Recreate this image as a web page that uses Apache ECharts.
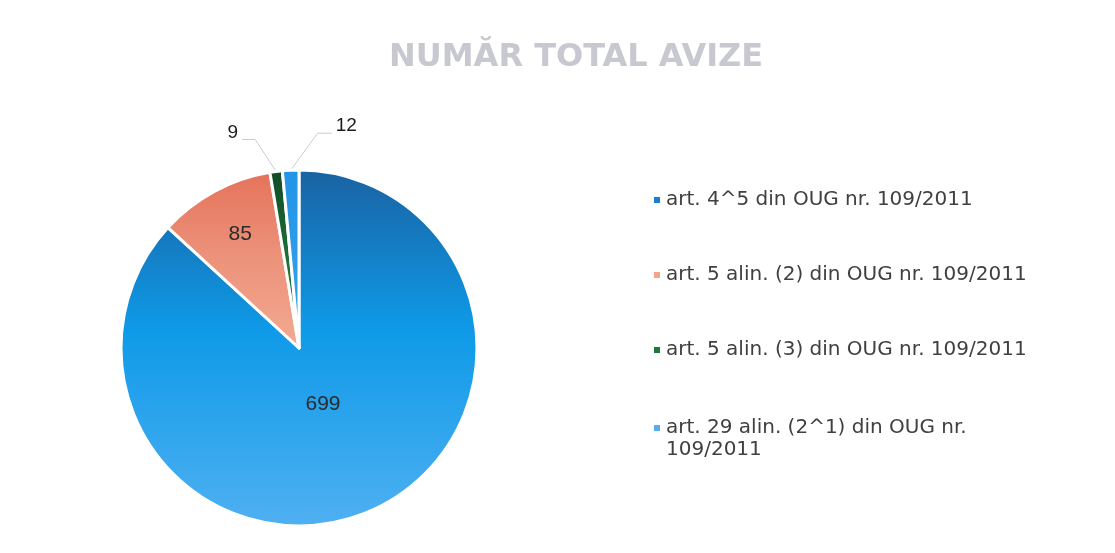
<!DOCTYPE html>
<html lang="ro">
<head>
    <meta charset="UTF-8">
    <script src="https://cdn.jsdelivr.net/npm/echarts@6/dist/echarts.min.js"></script>
    <title>Număr total avize</title>
    <style>
        html, body { margin: 0; padding: 0; background: #fff; }
        #chart { width: 1115px; height: 553px; }
    </style>
</head>
<body>
    <div id="chart"></div>
</body>
<script type="text/javascript">
    // date
    var categorii = [
        'art. 4^5 din OUG nr. 109/2011',
        'art. 5 alin. (2) din OUG nr. 109/2011',
        'art. 5 alin. (3) din OUG nr. 109/2011',
        'art. 29 alin. (2^1) din OUG nr. 109/2011'
    ];
    var valori = [699, 85, 9, 12];

    // stil
    var culoriSus = ['#1a62a2', '#e4735a', '#124a26', '#2494e6'];
    var culoriMijloc = ['#0e9ae8', '#ec9079', '#1d6c37', '#2d9bea'];
    var culoriJos = ['#50b0f2', '#f3aa92', '#2a8c48', '#3aa2ee'];
    var culoriLegenda = ['#1a7fd4', '#f2a58e', '#1e7a3c', '#55aef0'];
    var pozitiiEticheta = ['inside', 'inside', 'outside', 'outside'];
    var deplasareEticheta = [[-13, -28], [-15, -33], [0, 0], [0, 0]];
    // linia etichetelor exterioare: [dx oblic, dy oblic, lungime orizontala, sens]
    var linieEticheta = [null, null, [-21, -32, 13, -1], [27, -37, 14, 1]];
    var latimeMaxLegenda = 38; // caractere pe rand, apoi se rupe ultimul cuvant

    function gradient(i) {
        return new echarts.graphic.LinearGradient(0, 0, 0, 1, [
            {offset: 0, color: culoriSus[i]},
            {offset: 0.45, color: culoriMijloc[i]},
            {offset: 1, color: culoriJos[i]}
        ]);
    }

    var chart = echarts.init(document.getElementById('chart'));

    var dateSerie = categorii.map(function (nume, i) {
        var interior = pozitiiEticheta[i] === 'inside';
        return {
            name: nume,
            value: valori[i],
            itemStyle: {color: gradient(i)},
            label: {
                position: pozitiiEticheta[i],
                offset: deplasareEticheta[i],
                fontSize: interior ? 21 : 19,
                color: interior ? '#2b2b2b' : '#1a1a1a'
            }
        };
    });

    var elementeLegenda = categorii.map(function (nume, i) {
        return {name: nume, itemStyle: {color: culoriLegenda[i]}};
    });
    var scurte = elementeLegenda.filter(function (e) { return e.name.length <= latimeMaxLegenda; });
    var lungi = elementeLegenda.filter(function (e) { return e.name.length > latimeMaxLegenda; });

    var stilLegenda = {
        orient: 'vertical',
        left: 647,
        itemGap: 53,
        itemWidth: 8,
        itemHeight: 8,
        icon: 'rect',
        textStyle: {
            fontFamily: 'DejaVu Sans',
            fontSize: 20,
            color: '#404040',
            lineHeight: 22
        }
    };

    chart.setOption({
        animation: false,
        title: {
            text: 'NUMĂR TOTAL AVIZE',
            left: 384,
            top: 37,
            textStyle: {
                fontFamily: 'DejaVu Sans',
                fontSize: 32,
                fontWeight: 'bold',
                color: '#c8c8d0'
            }
        },
        legend: [
            Object.assign({}, stilLegenda, {top: 184, data: scurte}),
            // textul lung e rupt pe doua randuri; rand gol deasupra ca iconita
            // sa stea in dreptul primului rand
            Object.assign({}, stilLegenda, {
                top: 390,
                data: lungi,
                formatter: function (nume) {
                    var k = nume.lastIndexOf(' ');
                    return '\n' + nume.slice(0, k) + '\n' + nume.slice(k + 1);
                }
            })
        ],
        series: [{
            name: 'Număr total avize',
            type: 'pie',
            center: [299, 348],
            radius: 178,
            startAngle: 90,
            clockwise: true,
            avoidLabelOverlap: false,
            itemStyle: {borderColor: '#fff', borderWidth: 3},
            label: {
                show: true,
                formatter: '{c}',
                fontFamily: 'Liberation Sans'
            },
            labelLine: {
                length: 28,
                length2: 14,
                lineStyle: {color: '#c9ccd2', width: 1}
            },
            // etichetele mici: linie oblica spre exterior, apoi orizontala
            labelLayout: function (params) {
                var g = linieEticheta[params.dataIndex];
                if (!g || !params.labelLinePoints) {
                    return;
                }
                var p0 = params.labelLinePoints[0];
                var p1 = [p0[0] + g[0], p0[1] + g[1]];
                var p2 = [p1[0] + g[3] * g[2], p1[1]];
                return {
                    x: p2[0] + g[3] * 4,
                    y: p2[1] - 7,
                    align: g[3] > 0 ? 'left' : 'right',
                    verticalAlign: 'middle',
                    labelLinePoints: [p0, p1, p2]
                };
            },
            emphasis: {disabled: true},
            data: dateSerie
        }]
    });
</script>
</html>
